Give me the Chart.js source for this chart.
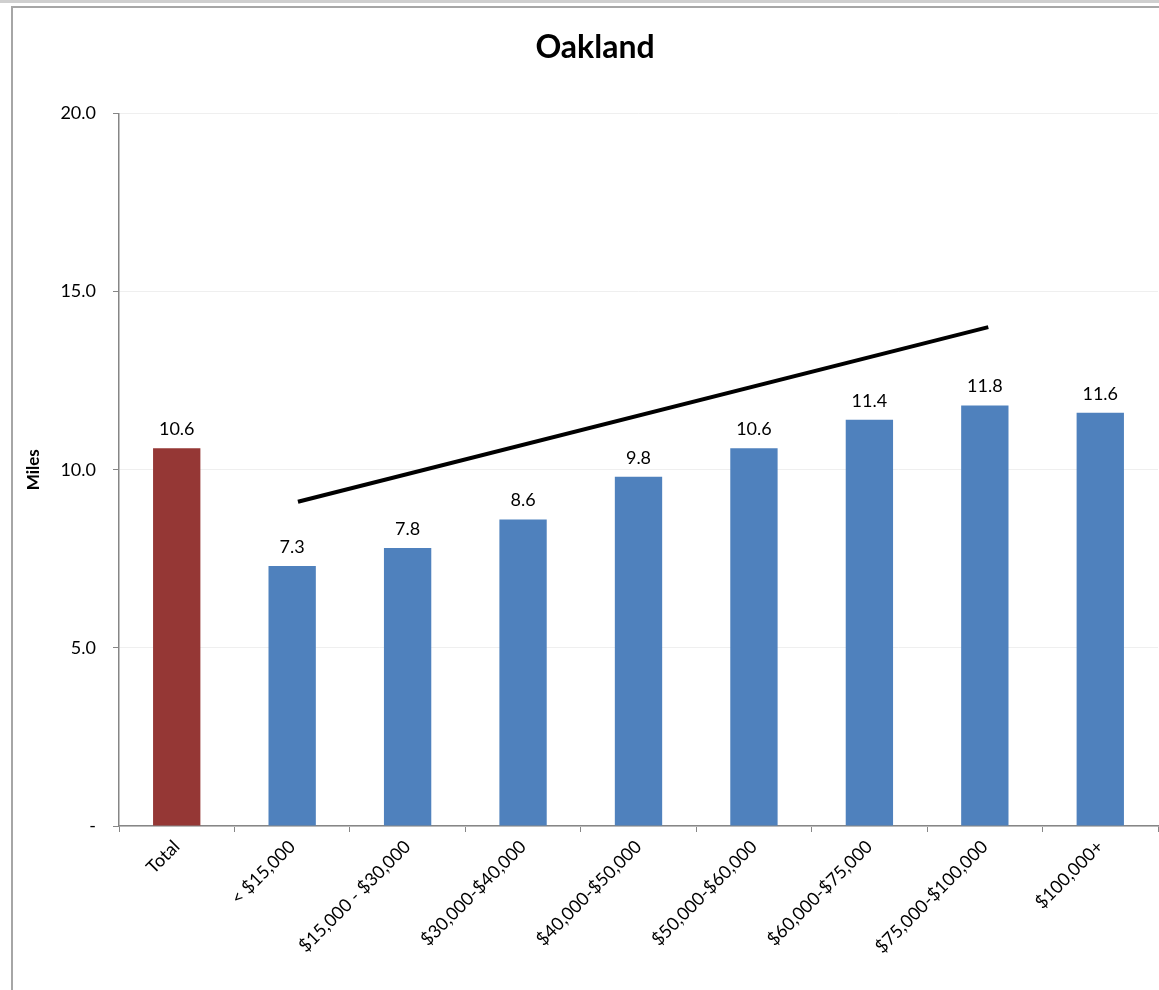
<!DOCTYPE html>
<html>
<head>
<meta charset="utf-8">
<title>Oakland</title>
<script src="https://cdn.jsdelivr.net/npm/chart.js@4/dist/chart.umd.min.js"></script>
<style>
  html, body { margin: 0; padding: 0; background: #fff; overflow: hidden; width: 1159px; height: 990px; }
  #topband { position: absolute; left: 0; top: 0; width: 1159px; height: 3px; background: #cfcfcf; }
  #frame { position: absolute; left: 11px; top: 6px; width: 1164px; height: 990px;
           border-left: 2px solid #a6a6a6; border-top: 2px solid #a6a6a6; background: #fff; }
  #wrap { position: absolute; left: 1px; top: 1px; width: 1162px; height: 983px; }
</style>
</head>
<body>
<div id="topband"></div>
<div id="frame"><div id="wrap"><canvas id="chart"></canvas></div></div>
<script>
// Average trip distance by household income, Oakland
const categories = ['Total', '< $15,000', '$15,000 - $30,000', '$30,000-$40,000', '$40,000-$50,000',
                    '$50,000-$60,000', '$60,000-$75,000', '$75,000-$100,000', '$100,000+'];
const miles = [10.6, 7.3, 7.8, 8.6, 9.8, 10.6, 11.4, 11.8, 11.6];
const barColors = ['#953735', '#4f81bd', '#4f81bd', '#4f81bd', '#4f81bd', '#4f81bd', '#4f81bd', '#4f81bd', '#4f81bd'];
const yTicks = [0, 5, 10, 15, 20];
// Trend arrow across the income groups (category index, miles)
const trendX = [1.05, 7.03];
const trendY = [9.1, 14.0];

const FONT = 'Lato, "Open Sans", "DejaVu Sans", sans-serif';

const valueLabels = {
  id: 'valueLabels',
  afterDatasetsDraw(chart) {
    const ctx = chart.ctx;
    const meta = chart.getDatasetMeta(0);
    ctx.save();
    ctx.font = '18px ' + FONT;
    ctx.fillStyle = '#000';
    ctx.textAlign = 'center';
    ctx.textBaseline = 'middle';
    meta.data.forEach((bar, i) => {
      ctx.fillText(miles[i].toFixed(1), bar.x, bar.y - 19);
    });
    ctx.restore();
  }
};

new Chart(document.getElementById('chart'), {
  type: 'bar',
  data: {
    labels: categories,
    datasets: [
      {
        type: 'bar',
        data: miles,
        backgroundColor: barColors,
        grouped: false,
        barPercentage: 0.41,
        categoryPercentage: 1.0,
        order: 2
      },
      {
        type: 'line',
        xAxisID: 'x2',
        data: trendX.map((x, i) => ({ x: x, y: trendY[i] })),
        borderColor: '#000',
        borderWidth: 4,
        pointRadius: 0,
        fill: false,
        order: 1
      }
    ]
  },
  options: {
    responsive: true,
    maintainAspectRatio: false,
    animation: false,
    layout: { padding: { left: 18, right: 18, top: 0, bottom: 0 } },
    plugins: {
      legend: { display: false },
      tooltip: { enabled: false },
      title: {
        display: true,
        text: 'Oakland',
        color: '#000',
        font: { family: FONT, size: 32, weight: 'bold' },
        padding: { top: 19, bottom: 47 }
      }
    },
    scales: {
      x: {
        type: 'category',
        offset: true,
        grid: { display: true, drawOnChartArea: false, offset: true, tickLength: 6, tickColor: '#868686', tickWidth: 1 },
        border: { color: '#868686', width: 1.5 },
        ticks: {
          color: '#000',
          font: { family: FONT, size: 18 },
          minRotation: 45,
          maxRotation: 45,
          padding: 4,
          autoSkip: false
        },
        afterFit(scale) { scale.height = 166; }
      },
      x2: {
        type: 'linear',
        display: false,
        offset: false,
        min: -0.5,
        max: 8.5
      },
      y: {
        min: 0,
        max: 20,
        afterBuildTicks(scale) { scale.ticks = yTicks.map(v => ({ value: v })); },
        grid: { color: '#efefef', lineWidth: 1, tickLength: 6, tickColor: '#868686' },
        border: { color: '#868686', width: 1.5 },
        ticks: {
          color: '#000',
          font: { family: FONT, size: 18 },
          padding: 17,
          callback(v) { return v === 0 ? '-' : Number(v).toFixed(1); }
        },
        title: {
          display: true,
          text: 'Miles',
          color: '#000',
          font: { family: FONT, size: 17, weight: 'bold' },
          padding: { top: -9, bottom: 0 }
        },
        afterFit(scale) { scale.width = 87; }
      }
    }
  },
  plugins: [valueLabels]
});
</script>
</body>
</html>
